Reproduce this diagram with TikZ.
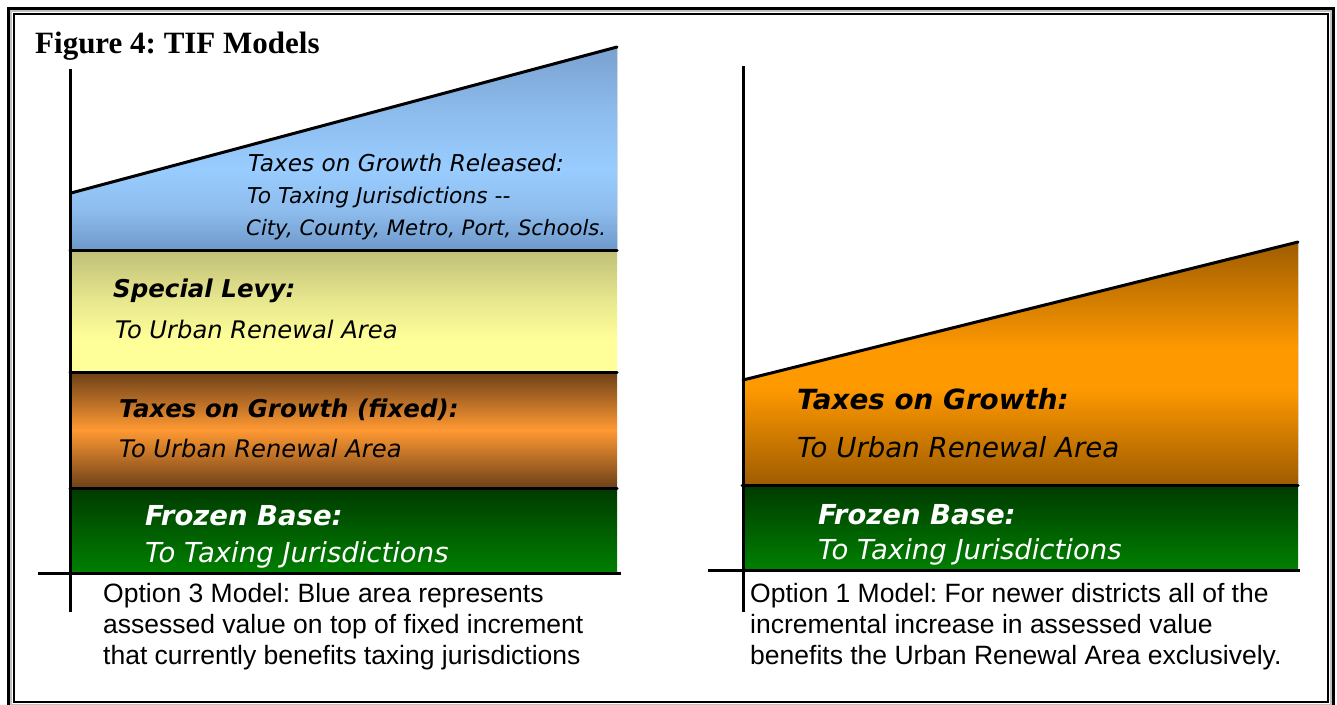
\documentclass[tikz,border=0pt]{standalone}
\usepackage{fontspec}
\setmainfont{Liberation Serif}
\newfontfamily\bandfont[BoldFont={DejaVu Sans Bold},ItalicFont={DejaVu Sans Oblique},BoldItalicFont={DejaVu Sans Bold Oblique}]{DejaVu Sans}
\newfontfamily\notefont{Liberation Sans}
\frenchspacing

% band colours
\definecolor{skyA}{HTML}{99CCFF}
\definecolor{skyB}{HTML}{8EBDEE}
\definecolor{skyC}{HTML}{6D99C9}
\definecolor{skyD}{HTML}{79A1D0}
\definecolor{lemonTop}{HTML}{BFBF77}
\definecolor{lemonMid}{HTML}{E6E68E}
\definecolor{lemonLow}{HTML}{FFFF99}
\definecolor{rustEdge}{HTML}{6C4018}
\definecolor{rustMid}{HTML}{FF9933}
\definecolor{pineTop}{HTML}{003A00}
\definecolor{pineLow}{HTML}{008000}
\definecolor{amberEdge}{HTML}{9E5C00}
\definecolor{amberMid}{HTML}{FF9900}

% vertical shadings: the path box maps to 25bp (bottom) .. 75bp (top)
\pgfdeclareverticalshading{skyband}{100bp}{color(0bp)=(skyC); color(25bp)=(skyC); color(35bp)=(skyB); color(45bp)=(skyA); color(58bp)=(skyB); color(75bp)=(skyD); color(100bp)=(skyD)}
\pgfdeclareverticalshading{lemonband}{100bp}{color(0bp)=(lemonLow); color(25bp)=(lemonLow); color(38bp)=(lemonLow); color(55bp)=(lemonMid); color(75bp)=(lemonTop); color(100bp)=(lemonTop)}
\pgfdeclareverticalshading{rustband}{100bp}{color(0bp)=(rustEdge); color(25bp)=(rustEdge); color(50bp)=(rustMid); color(75bp)=(rustEdge); color(100bp)=(rustEdge)}
\pgfdeclareverticalshading{pineband}{100bp}{color(0bp)=(pineLow); color(25bp)=(pineLow); color(75bp)=(pineTop); color(100bp)=(pineTop)}
\pgfdeclareverticalshading{amberband}{100bp}{color(0bp)=(amberEdge); color(25bp)=(amberEdge); color(45bp)=(amberMid); color(53bp)=(amberMid); color(75bp)=(amberEdge); color(100bp)=(amberEdge)}

\tikzset{
  rule/.style={line width=3pt, line cap=round},
  axisline/.style={line width=3pt},
  head/.style={anchor=base west, inner sep=0pt, font=\bandfont\bfseries\itshape\fontsize{#1}{#1}\selectfont},
  sub/.style={anchor=base west, inner sep=0pt, font=\bandfont\itshape\fontsize{#1}{#1}\selectfont},
  % multi-line note: its base anchor sits on the last line
  note/.style={anchor=base west, inner sep=0pt, align=left, font=\notefont\fontsize{26.5}{31}\selectfont}
}

\begin{document}
\begin{tikzpicture}[x=1pt,y=-1pt]
\useasboundingbox (0,0) rectangle (1337,704);
\fill[white] (0,0) rectangle (1337,704);

% double frame
\draw[line width=3pt] (8.7,8.7) rectangle (1333.3,707);
\draw[black!25, line width=2pt] (11.2,11.2) rectangle (1330.8,704.5);
\draw[line width=2pt] (13.7,13.7) rectangle (1328.3,702);

\node[anchor=base west, inner sep=0pt, font=\bfseries\fontsize{31}{36}\selectfont] (title) at (35,53) {Figure 4: TIF Models};

% ---- Option 3 model ----
\fill[shading=skyband] (72,193) -- (617,47) -- (617,250) -- (72,250) -- cycle;
\fill[shading=lemonband] (72,250) rectangle (617,372);
\fill[shading=rustband] (72,372) rectangle (617,488);
\fill[shading=pineband] (72,488) rectangle (617,573);
\draw[rule] (71,193) -- (617,47);
\draw[rule] (70,250) -- (617,250);
\draw[rule] (70,372) -- (617,372);
\draw[rule] (70,488) -- (617,488);
\draw[axisline] (70.5,69) -- (70.5,612);
\draw[axisline] (38,573) -- (621,573);

\node[sub=23.2] (relT) at (248,171) {Taxes on Growth Released:};
\node[sub=21.8] (relA) at (247,203) {To Taxing Jurisdictions --};
\node[sub=21.2] (relB) at (246,235) {City, County, Metro, Port, Schools.};
\node[head=24.5] (levT) at (113,297) {Special Levy:};
\node[sub=24.2] (levA) at (115,338) {To Urban Renewal Area};
\node[head=24.5] (fixT) at (119,417) {Taxes on Growth (fixed):};
\node[sub=24.2] (fixA) at (119,457) {To Urban Renewal Area};
\node[head=27.5, white] (baseLT) at (145,525) {Frozen Base:};
\node[sub=27.5, white] (baseLA) at (145,562) {To Taxing Jurisdictions};

\node[note] (capL) at (103,664) {Option 3 Model: Blue area represents\\assessed value on top of fixed increment\\that currently benefits taxing jurisdictions};

% ---- Option 1 model ----
\fill[shading=amberband] (744,379) -- (1298,242) -- (1298,485) -- (744,485) -- cycle;
\fill[shading=pineband] (744,485) rectangle (1298,570);
\draw[rule] (743,380) -- (1298,242);
\draw[rule] (742,485) -- (1298,485);
\draw[axisline] (743,66) -- (743,612);
\draw[axisline] (708,570) -- (1300,570);

\node[head=27.8] (grwT) at (797,409) {Taxes on Growth:};
\node[sub=27.6] (grwA) at (797,457) {To Urban Renewal Area};
\node[head=27.5, white] (baseRT) at (818,524) {Frozen Base:};
\node[sub=27.5, white] (baseRA) at (818,559) {To Taxing Jurisdictions};

\node[note] (capR) at (750,664) {Option 1 Model: For newer districts all of the\\incremental increase in assessed value\\benefits the Urban Renewal Area exclusively.};
\end{tikzpicture}
\end{document}
